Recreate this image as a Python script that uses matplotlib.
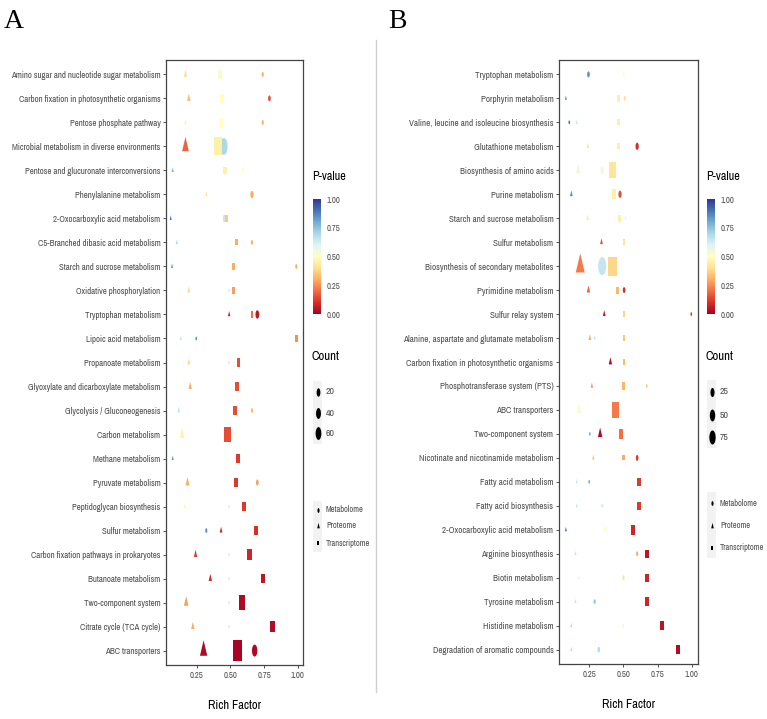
import numpy as np
import matplotlib
matplotlib.use('Agg')
import matplotlib.pyplot as plt
from matplotlib.path import Path
from matplotlib import font_manager
from matplotlib.colors import Normalize
from matplotlib.patches import Rectangle
from matplotlib.lines import Line2D

# ---------------- dados painel A ----------------
a_paths = ['Amino sugar and nucleotide sugar metabolism', 'Carbon fixation in photosynthetic organisms',
           'Pentose phosphate pathway', 'Microbial metabolism in diverse environments',
           'Pentose and glucuronate interconversions', 'Phenylalanine metabolism',
           '2-Oxocarboxylic acid metabolism', 'C5-Branched dibasic acid metabolism',
           'Starch and sucrose metabolism', 'Oxidative phosphorylation', 'Tryptophan metabolism',
           'Lipoic acid metabolism', 'Propanoate metabolism', 'Glyoxylate and dicarboxylate metabolism',
           'Glycolysis / Gluconeogenesis', 'Carbon metabolism', 'Methane metabolism', 'Pyruvate metabolism',
           'Peptidoglycan biosynthesis', 'Sulfur metabolism', 'Carbon fixation pathways in prokaryotes',
           'Butanoate metabolism', 'Two-component system', 'Citrate cycle (TCA cycle)', 'ABC transporters']
nan = np.nan
a_met_x = [0.74, 0.79, 0.74, 0.45, 0.59, 0.66, 0.455, 0.66, 0.99, 0.49, 0.70, 0.245, 0.49,
           nan, 0.66, 0.525, nan, 0.70, 0.49, 0.32, 0.49, 0.49, 0.49, 0.49, 0.68]
a_met_p = [0.30, 0.15, 0.30, 0.70, 0.50, 0.30, 0.65, 0.30, 0.30, 0.62, 0.05, 0.85, 0.62,
           nan, 0.32, 0.50, nan, 0.28, 0.62, 0.85, 0.62, 0.62, 0.62, 0.62, 0.02]
a_met_n = [3, 7, 3, 115, 3, 13, 13, 3, 3, 1, 20, 1, 1, nan, 3, 3, nan, 7, 1, 3, 1, 1, 1, 1, 51]
a_pro_x = [0.165, 0.19, 0.165, 0.165, 0.07, 0.32, 0.055, 0.10, 0.065, 0.19, 0.49, 0.13, 0.19,
           0.20, 0.115, 0.14, 0.07, 0.18, 0.16, 0.43, 0.24, 0.35, 0.17, 0.22, 0.30]
a_pro_p = [0.40, 0.32, 0.45, 0.18, 0.80, 0.40, 0.90, 0.70, 0.85, 0.38, 0.05, 0.65, 0.38,
           0.30, 0.65, 0.45, 0.85, 0.30, 0.48, 0.08, 0.12, 0.08, 0.28, 0.30, 0.02]
a_pro_n = [8, 8, 2, 55, 1, 1, 1, 1, 1, 4, 2, 1, 4, 8, 4, 19, 1, 13, 2, 4, 8, 8, 19, 8, 66]
a_tra_x = [0.42, 0.435, 0.43, 0.41, 0.46, nan, 0.47, 0.545, 0.525, 0.525, 0.66, 0.99, 0.56,
           0.55, 0.535, 0.48, 0.555, 0.54, 0.60, 0.69, 0.64, 0.74, 0.585, 0.815, 0.55]
a_tra_p = [0.52, 0.50, 0.50, 0.45, 0.45, nan, 0.35, 0.30, 0.30, 0.28, 0.20, 0.25, 0.15,
           0.15, 0.15, 0.15, 0.12, 0.12, 0.12, 0.10, 0.08, 0.05, 0.02, 0.03, 0.01]
a_tra_n = [40, 28, 28, 178, 18, nan, 18, 11, 18, 18, 11, 11, 28, 28, 40, 128, 40, 40, 28, 28,
           53, 40, 107, 53, 236]

# ---------------- dados painel B ----------------
b_paths = ['Tryptophan metabolism', 'Porphyrin metabolism', 'Valine, leucine and isoleucine biosynthesis',
           'Glutathione metabolism', 'Biosynthesis of amino acids', 'Purine metabolism',
           'Starch and sucrose metabolism', 'Sulfur metabolism', 'Biosynthesis of secondary metabolites',
           'Pyrimidine metabolism', 'Sulfur relay system', 'Alanine, aspartate and glutamate metabolism',
           'Carbon fixation in photosynthetic organisms', 'Phosphotransferase system (PTS)',
           'ABC transporters', 'Two-component system', 'Nicotinate and nicotinamide metabolism',
           'Fatty acid metabolism', 'Fatty acid biosynthesis', '2-Oxocarboxylic acid metabolism',
           'Arginine biosynthesis', 'Biotin metabolism', 'Tyrosine metabolism', 'Histidine metabolism',
           'Degradation of aromatic compounds']
b_met_x = [0.245, 0.51, 0.105, 0.60, 0.345, 0.475, 0.515, nan, 0.345, 0.505, 0.995, 0.29, nan,
           0.67, nan, 0.255, 0.60, 0.25, 0.345, 0.37, 0.60, 0.50, 0.29, 0.50, 0.32]
b_met_p = [0.85, 0.40, 0.90, 0.10, 0.55, 0.15, 0.55, nan, 0.65, 0.10, 0.12, 0.65, nan,
           0.35, nan, 0.80, 0.12, 0.80, 0.65, 0.50, 0.30, 0.42, 0.75, 0.48, 0.68]
b_met_n = [7, 3, 1, 13, 13, 13, 1, nan, 135, 7, 1, 1, nan, 1, nan, 1, 7, 1, 1, 7, 3, 3, 3, 1, 7]
b_pro_x = [0.50, 0.08, 0.16, 0.24, 0.17, 0.12, 0.24, 0.34, 0.185, 0.245, 0.36, 0.255, 0.405,
           0.27, 0.175, 0.33, 0.28, 0.16, 0.16, 0.08, 0.15, 0.175, 0.15, 0.12, 0.12]
b_pro_p = [0.50, 0.85, 0.65, 0.40, 0.55, 0.85, 0.42, 0.15, 0.22, 0.18, 0.05, 0.30, 0.03,
           0.25, 0.52, 0.03, 0.35, 0.65, 0.65, 0.90, 0.65, 0.58, 0.65, 0.70, 0.68]
b_pro_n = [4, 1, 1, 2, 19, 4, 2, 4, 109, 8, 4, 4, 8, 2, 19, 19, 2, 1, 1, 1, 1, 1, 1, 1, 1]
b_tra_x = [nan, 0.465, 0.465, 0.465, 0.42, 0.43, 0.47, 0.505, 0.42, 0.455, 0.505, 0.505, 0.505,
           0.50, 0.445, 0.48, 0.50, 0.615, 0.615, 0.57, 0.67, 0.67, 0.67, 0.78, 0.90]
b_tra_p = [nan, 0.45, 0.45, 0.45, 0.42, 0.45, 0.45, 0.42, 0.38, 0.32, 0.38, 0.35, 0.32,
           0.32, 0.22, 0.20, 0.30, 0.12, 0.12, 0.08, 0.05, 0.08, 0.08, 0.04, 0.03]
b_tra_n = [nan, 18, 11, 11, 128, 40, 18, 11, 206, 18, 11, 11, 11, 18, 128, 40, 5, 28, 28, 40,
           28, 28, 28, 28, 28]

a_count_breaks = [20, 40, 60]
b_count_breaks = [25, 50, 75]
omics = ['Metabolome', 'Proteome', 'Transcriptome']

# ---------------- estilo ----------------
W, H = 767, 719
# procura uma fonte estreita (a figura original está achatada na horizontal)
FONT, STRETCH = 'DejaVu Sans', 'normal'
for f in font_manager.fontManager.ttflist:
    if 'Narrow' in f.name or 'Condensed' in f.name:
        FONT, STRETCH = f.name, 'normal'
        break
else:
    for f in font_manager.fontManager.ttflist:
        if f.name == 'DejaVu Sans' and f.stretch in ('condensed', 'semi-condensed'):
            STRETCH = f.stretch
            break
plt.rcParams['font.family'] = [FONT, 'DejaVu Sans']
plt.rcParams['font.stretch'] = STRETCH
cmap = plt.get_cmap('RdYlBu')
norm = Normalize(0, 1)
GREY = '#4d4d4d'
SQ = 0.45

# marcadores (círculo, triângulo, quadrado) com mesma área, achatados
t = np.linspace(0, 2 * np.pi, 50)
m_circ = Path(np.column_stack([SQ * np.cos(t), np.sin(t)]))
r_tri = 1.555
m_tri = Path([(0, r_tri), (0.9 * SQ * 1.347, -r_tri / 2), (-0.9 * SQ * 1.347, -r_tri / 2), (0, r_tri)])
h_sq = 0.886
m_sq = Path([(-SQ * h_sq, -h_sq), (SQ * h_sq, -h_sq), (SQ * h_sq, h_sq), (-SQ * h_sq, h_sq), (-SQ * h_sq, -h_sq)])
marks = {'Metabolome': (m_circ, 1.0), 'Proteome': (m_tri, r_tri), 'Transcriptome': (m_sq, h_sq)}


def diam(n):
    # tamanho tipo ggplot (px)
    return 2.4 * (1 + 5 * np.sqrt(np.asarray(n, float) / 80.0))


def px(x, y):
    return x / W, 1 - y / H


def fit(texts, width_px):
    # reduz a fonte até o texto mais largo caber na largura alvo
    r = fig.canvas.get_renderer()
    wmax = max(tx.get_window_extent(r).width for tx in texts)
    if wmax > width_px:
        for tx in texts:
            tx.set_fontsize(tx.get_fontsize() * width_px / wmax)


def panel(rect, paths, series, xlim, label_w):
    ax = fig.add_axes(rect)
    y = np.arange(len(paths))[::-1] + 1
    for om, xs, ps, ns in series:
        path, f = marks[om]
        xs, ps, ns = np.array(xs, float), np.array(ps, float), np.array(ns, float)
        ok = ~np.isnan(xs)
        ms = diam(ns[ok]) * 0.72 * f
        ax.scatter(xs[ok], y[ok], s=ms ** 2, c=ps[ok], cmap=cmap, norm=norm,
                   marker=path, linewidths=0, zorder=3)
    ax.set_xlim(*xlim)
    ax.set_ylim(0.4, len(paths) + 0.6)
    ax.set_yticks(y)
    labs = ax.set_yticklabels(paths, fontsize=8, color=GREY)
    ax.set_xticks([0.25, 0.5, 0.75, 1.0])
    xl = ax.set_xticklabels(['0.25', '0.50', '0.75', '1.00'], fontsize=8, color=GREY)
    ax.tick_params(length=2.5, width=0.6, color='#333333', pad=1.5)
    ax.set_xlabel('Rich Factor', fontsize=9, labelpad=15)
    for s in ax.spines.values():
        s.set_color('#444444')
        s.set_linewidth(0.9)
    fit(labs, label_w)
    fit(xl, 14)
    return ax


def legend(x0, bar_x, ytit, breaks, ycnt, yshp, key_cnt, key_shp):
    l, b = px(bar_x, 314)
    cax = fig.add_axes([l, b, 8 / W, 115 / H])
    cb = fig.colorbar(plt.cm.ScalarMappable(norm=norm, cmap=cmap), cax=cax)
    cb.outline.set_visible(False)
    cb.set_ticks([0, 0.25, 0.5, 0.75, 1.0])
    cb.set_ticklabels(['0.00', '0.25', '0.50', '0.75', '1.00'])
    cax.tick_params(labelsize=8, length=2, color='white', width=0.6, labelcolor=GREY, pad=2)
    fit(cax.get_yticklabels(), 14)
    t1 = fig.text(*px(x0, ytit), 'P-value', fontsize=10, va='center')
    t2 = fig.text(*px(x0, 357), 'Count', fontsize=10, va='center')
    fit([t1], 34)
    fit([t2], 28)
    ov.add_patch(Rectangle((bar_x, key_cnt[0]), 9, key_cnt[1] - key_cnt[0], color='#f2f2f2', lw=0))
    ov.add_patch(Rectangle((bar_x, key_shp[0]), 9, key_shp[1] - key_shp[0], color='#f2f2f2', lw=0))
    labs = []
    for n, yy in zip(breaks, ycnt):
        ms = diam(n) * 0.72
        ov.plot(bar_x + 4.5, yy, marker=m_circ, ms=ms, color='black', mew=0)
        labs.append(ov.text(bar_x + 13, yy, str(n), fontsize=8, color=GREY, va='center'))
    fit(labs, 9)
    labs = []
    for om, yy in zip(omics, yshp):
        path, f = marks[om]
        ov.plot(bar_x + 4.5, yy, marker=path, ms=3.4 * f, color='black', mew=0)
        labs.append(ov.text(bar_x + 13, yy, om, fontsize=8, color=GREY, va='center'))
    fit(labs, 44)


fig = plt.figure(figsize=(W / 100, H / 100), dpi=100)
ov = fig.add_axes([0, 0, 1, 1])
ov.set_xlim(0, W)
ov.set_ylim(H, 0)
ov.axis('off')

panel([166 / W, 1 - 665 / H, 137 / W, 605 / H], a_paths,
      [('Metabolome', a_met_x, a_met_p, a_met_n), ('Proteome', a_pro_x, a_pro_p, a_pro_n),
       ('Transcriptome', a_tra_x, a_tra_p, a_tra_n)], (0.02, 1.04), 150)
panel([559 / W, 1 - 664 / H, 139 / W, 604 / H], b_paths,
      [('Metabolome', b_met_x, b_met_p, b_met_n), ('Proteome', b_pro_x, b_pro_p, b_pro_n),
       ('Transcriptome', b_tra_x, b_tra_p, b_tra_n)], (0.03, 1.044), 150)

legend(312, 313, 177, a_count_breaks, [392, 413, 433], [510, 526, 543], (381, 444), (501, 552))
legend(706, 707, 177, b_count_breaks, [392, 415, 437], [503, 526, 548], (380, 448), (492, 558))

# linha separadora e letras dos painéis
ov.add_line(Line2D([376, 376], [40, 692], color='#cfcfcf', lw=1))
fig.text(*px(4, 22), 'A', fontsize=20, family='Liberation Serif', va='center')
fig.text(*px(388, 22), 'B', fontsize=20, family='Liberation Serif', va='center')

fig.savefig('out.png', dpi=100)
